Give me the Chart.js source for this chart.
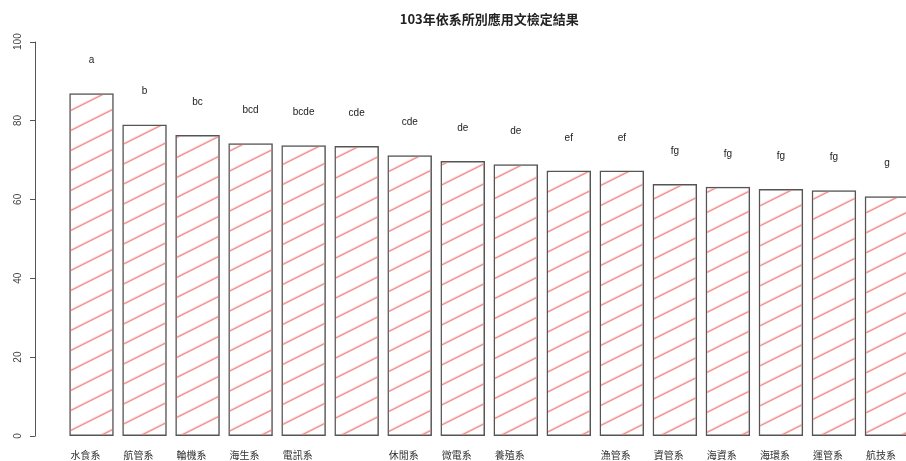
<!DOCTYPE html>
<html>
<head>
<meta charset="utf-8">
<script src="https://cdn.jsdelivr.net/npm/chart.js@4/dist/chart.umd.min.js"></script>
<style>
  html, body { margin: 0; padding: 0; background: #fff; overflow: hidden; }
  #wrap { position: absolute; left: 0; top: 0; width: 915px; height: 474px; }
</style>
</head>
<body>
<div id="wrap"><canvas id="scores-chart"></canvas></div>
<script>
// data
const categories = ['水食系', '航管系', '輪機系', '海生系', '電訊系', '', '休閒系', '微電系',
                    '養殖系', '', '漁管系', '資管系', '海資系', '海環系', '運管系', '航技系'];
const scores = [86.9, 79.0, 76.3, 74.2, 73.7, 73.5, 71.2, 69.7,
                68.9, 67.3, 67.3, 63.9, 63.2, 62.6, 62.3, 60.8];
const groups = ['a', 'b', 'bc', 'bcd', 'bcde', 'cde', 'cde', 'de',
                'de', 'ef', 'ef', 'fg', 'fg', 'fg', 'fg', 'g'];
const yTicks = [0, 20, 40, 60, 80, 100];

// red hatch fill like R's density lines
function makeHatch() {
    const tile = document.createElement('canvas');
    tile.width = 40;
    tile.height = 20;
    const t = tile.getContext('2d');
    t.strokeStyle = '#f07a7a';
    t.lineWidth = 1.3;
    [0, 20, 40].forEach(function (c) {
        t.beginPath();
        t.moveTo(-2, c + 1);
        t.lineTo(82, c - 41);
        t.stroke();
    });
    const pattern = document.createElement('canvas').getContext('2d').createPattern(tile, 'repeat');
    pattern.setTransform(new DOMMatrix([1, 0, 0, 1, 0, 5.7]));
    return pattern;
}

// white page
const whiteBg = {
    id: 'whiteBg',
    beforeDraw(chart) {
        const ctx = chart.ctx;
        ctx.save();
        ctx.fillStyle = '#fff';
        ctx.fillRect(0, 0, chart.width, chart.height);
        ctx.restore();
    }
};

// letters above the bars
const groupLetters = {
    id: 'groupLetters',
    afterDatasetsDraw(chart) {
        const ctx = chart.ctx;
        const y = chart.scales.y;
        const meta = chart.getDatasetMeta(0);
        ctx.save();
        ctx.font = '10px "Liberation Sans", Arial, sans-serif';
        ctx.fillStyle = '#222';
        ctx.textAlign = 'center';
        ctx.textBaseline = 'middle';
        meta.data.forEach(function (bar, i) {
            ctx.fillText(groups[i], bar.x, y.getPixelForValue(scores[i] + 8.3));
        });
        ctx.restore();
    }
};

// R style detached y axis with rotated labels
const rAxis = {
    id: 'rAxis',
    afterDraw(chart) {
        const ctx = chart.ctx;
        const y = chart.scales.y;
        const x0 = 35.5;
        ctx.save();
        ctx.strokeStyle = '#555';
        ctx.lineWidth = 1;
        ctx.beginPath();
        ctx.moveTo(x0, y.getPixelForValue(yTicks[0]));
        ctx.lineTo(x0, y.getPixelForValue(yTicks[yTicks.length - 1]));
        yTicks.forEach(function (v) {
            const py = Math.round(y.getPixelForValue(v)) + 0.5;
            ctx.moveTo(x0, py);
            ctx.lineTo(30, py);
        });
        ctx.stroke();
        ctx.font = '10px "Liberation Sans", Arial, sans-serif';
        ctx.fillStyle = '#444';
        ctx.textAlign = 'center';
        ctx.textBaseline = 'middle';
        yTicks.forEach(function (v) {
            ctx.save();
            ctx.translate(18, y.getPixelForValue(v));
            ctx.rotate(-Math.PI / 2);
            ctx.fillText(String(v), 0, 0);
            ctx.restore();
        });
        ctx.restore();
    }
};

const chartCanvas = document.getElementById('scores-chart').getContext('2d');

const scoresChart = new Chart(chartCanvas, {
    type: 'bar',
    data: {
        labels: categories,
        datasets: [{
            data: scores,
            backgroundColor: makeHatch(),
            borderColor: '#555',
            borderWidth: 1.5,
            borderSkipped: false,
            barPercentage: 0.84,
            categoryPercentage: 1.0
        }]
    },
    options: {
        responsive: true,
        maintainAspectRatio: false,
        animation: false,
        layout: {
            padding: { left: 65, right: 1, top: 0, bottom: 0 }
        },
        scales: {
            x: {
                offset: true,
                grid: { display: false, drawTicks: false },
                border: { display: false },
                ticks: {
                    padding: 13,
                    labelOffset: -6,
                    autoSkip: false,
                    maxRotation: 0,
                    color: '#333',
                    font: { size: 10, family: '"Noto Sans CJK TC", sans-serif' }
                }
            },
            y: {
                display: false,
                min: 0,
                max: 100
            }
        },
        plugins: {
            legend: { display: false },
            tooltip: { enabled: false },
            title: {
                display: true,
                text: '103年依系所別應用文檢定結果',
                fullSize: false,
                color: '#222',
                font: { size: 13, weight: 'bold', family: '"Noto Sans CJK TC", sans-serif' },
                padding: { top: 11, bottom: 15 }
            }
        }
    },
    plugins: [whiteBg, groupLetters, rAxis]
});
</script>
</body>
</html>
